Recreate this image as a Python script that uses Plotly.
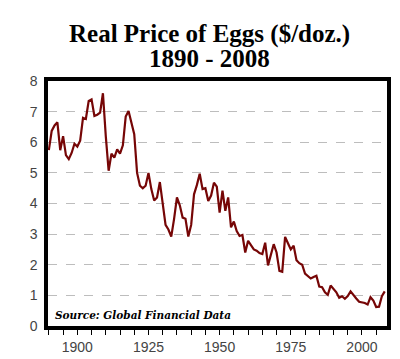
import plotly.graph_objects as go

years = list(range(1890, 2009))
price = [
    5.74, 6.37, 6.55, 6.65, 5.74, 6.2, 5.58, 5.45, 5.65, 5.95,   # 1890-1899
    5.86, 6.05, 6.8, 6.76, 7.35, 7.4, 6.86, 6.9, 6.97, 7.6,      # 1900-1909
    6.2, 5.07, 5.63, 5.5, 5.77, 5.63, 5.9, 6.84, 7.02, 6.68,     # 1910-1919
    6.26, 5.0, 4.58, 4.5, 4.58, 5.0, 4.47, 4.1, 4.2, 4.7,        # 1920-1929
    3.9, 3.3, 3.15, 2.92, 3.5, 4.2, 3.94, 3.54, 3.5, 2.92,       # 1930-1939
    3.3, 4.3, 4.6, 4.97, 4.47, 4.5, 4.08, 4.26, 4.68, 4.55,      # 1940-1949
    3.7, 4.42, 3.76, 4.2, 3.22, 3.41, 3.1, 2.94, 2.97, 2.4,      # 1950-1959
    2.78, 2.62, 2.5, 2.46, 2.38, 2.35, 2.72, 1.98, 2.3, 2.67,    # 1960-1969
    2.4, 1.8, 1.77, 2.91, 2.7, 2.5, 2.62, 2.15, 2.05, 2.0,       # 1970-1979
    1.71, 1.64, 1.55, 1.6, 1.64, 1.29, 1.27, 1.1, 1.02, 1.32,    # 1980-1989
    1.2, 1.1, 0.92, 0.97, 0.89, 0.98, 1.13, 1.0, 0.9, 0.79,      # 1990-1999
    0.77, 0.75, 0.7, 0.94, 0.83, 0.62, 0.63, 0.97, 1.13,         # 2000-2008
]

title_line1 = "Real Price of Eggs ($/doz.)"
title_line2 = "1890 - 2008"
source_text = "Source: Global Financial Data"
y_ticks = [0, 1, 2, 3, 4, 5, 6, 7, 8]
x_ticks = [1900, 1925, 1950, 1975, 2000]

fig = go.Figure()
fig.add_trace(go.Scatter(
    x=years, y=price, mode="lines",
    line=dict(color="#760606", width=2.2),
    hoverinfo="skip", showlegend=False,
))

fig.update_layout(
    width=400, height=359,
    margin=dict(l=40, r=21, t=73, b=34),
    paper_bgcolor="white", plot_bgcolor="white",
    xaxis=dict(
        range=[1889.7, 2008.8],
        tickvals=x_ticks,
        ticks="outside", ticklen=5, tickcolor="black", tickwidth=1,
        minor=dict(dtick=5, tick0=1890, ticks="outside", ticklen=5,
                   tickcolor="black", tickwidth=1, showgrid=False),
        showgrid=False, zeroline=False,
        showline=True, linecolor="black", linewidth=3.5, mirror=True,
        tickfont=dict(family="Liberation Sans, Arial, sans-serif", size=14, color="#444"),
    ),
    yaxis=dict(
        range=[0, 8],
        tickvals=y_ticks,
        ticks="", ticklabelstandoff=4,
        showgrid=True, gridcolor="#bdbdbd", gridwidth=1, griddash="dash",
        zeroline=False,
        showline=True, linecolor="black", linewidth=3.5, mirror=True,
        tickfont=dict(family="Liberation Sans, Arial, sans-serif", size=14, color="#444"),
    ),
    annotations=[
        dict(text="<b>" + title_line1 + "</b>", xref="paper", yref="paper",
             x=0.475, y=1.0, yshift=47, xanchor="center", yanchor="middle",
             showarrow=False,
             font=dict(family="Liberation Serif, serif", size=25, color="black")),
        dict(text="<b>" + title_line2 + "</b>", xref="paper", yref="paper",
             x=0.475, y=1.0, yshift=23, xanchor="center", yanchor="middle",
             showarrow=False,
             font=dict(family="Liberation Serif, serif", size=25, color="black")),
        dict(text="<b><i>" + source_text + "</i></b>", xref="paper", yref="paper",
             x=0.0, y=0.0, xshift=5, yshift=11, xanchor="left", yanchor="middle",
             showarrow=False,
             font=dict(family="DejaVu Serif", size=10.5, color="black")),
    ],
)

fig.write_html("out.html")
